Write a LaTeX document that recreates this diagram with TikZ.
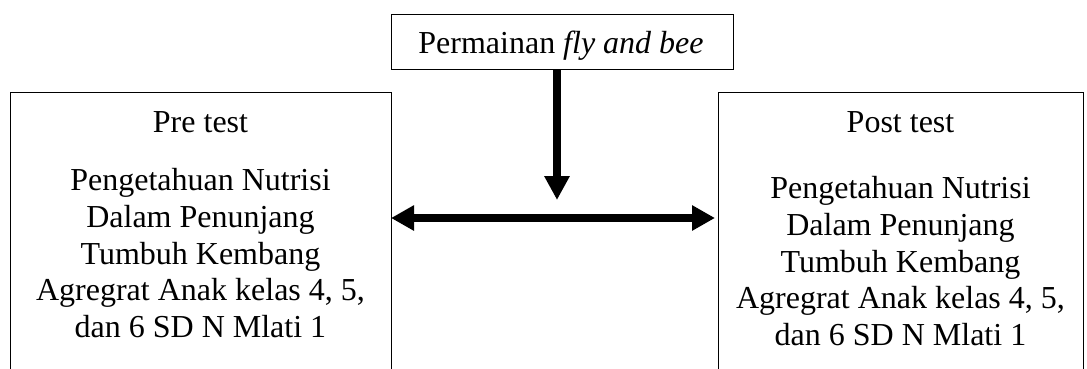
\documentclass[tikz,border=0pt]{standalone}
\usepackage{fontspec}
\setmainfont{Liberation Serif}
\usetikzlibrary{arrows.meta}
\begin{document}
\begin{tikzpicture}[x=1pt,y=-1pt,
  box/.style={draw=black,line width=0.9pt,inner sep=0pt},
  txt/.style={font=\fontsize{32}{36.7}\selectfont,align=center,inner sep=0pt},
  bigarrow/.style={line width=7.5pt,-{Triangle[length=24pt,width=24pt]}},
  dblarrow/.style={line width=7.5pt,{Triangle[length=23pt,width=24pt]}-{Triangle[length=23pt,width=24pt]}}]
\useasboundingbox (0,0) rectangle (1087,368);
\clip (0,0) rectangle (1087,368);
\node[box,minimum width=342pt,minimum height=55pt] (top) at (562,41.5) {};
\node[box,minimum width=381pt,minimum height=290pt] (pre) at (200.5,237) {};
\node[box,minimum width=365pt,minimum height=290pt] (post) at (900.5,237) {};
\node[txt,anchor=base] (toptxt) at (561,53) {Permainan \textit{fly and bee}};
\node[txt,anchor=base] (pretitle) at (200.5,132) {Pre test};
\node[txt,anchor=north] (pretxt) at (200.5,168.2) {Pengetahuan Nutrisi\\Dalam Penunjang\\Tumbuh Kembang\\Agregrat Anak kelas 4, 5,\\dan 6 SD N Mlati 1};
\node[txt,anchor=base] (posttitle) at (900.5,132) {Post test};
\node[txt,anchor=north] (posttxt) at (900.5,176.2) {Pengetahuan Nutrisi\\Dalam Penunjang\\Tumbuh Kembang\\Agregrat Anak kelas 4, 5,\\dan 6 SD N Mlati 1};
\coordinate (mid) at (557,200);
\coordinate (hl) at (391,218);
\coordinate (hr) at (715,218);
\draw[bigarrow] (top.south -| mid) -- (mid);
\draw[dblarrow] (hl) -- (hr);
\end{tikzpicture}
\end{document}
